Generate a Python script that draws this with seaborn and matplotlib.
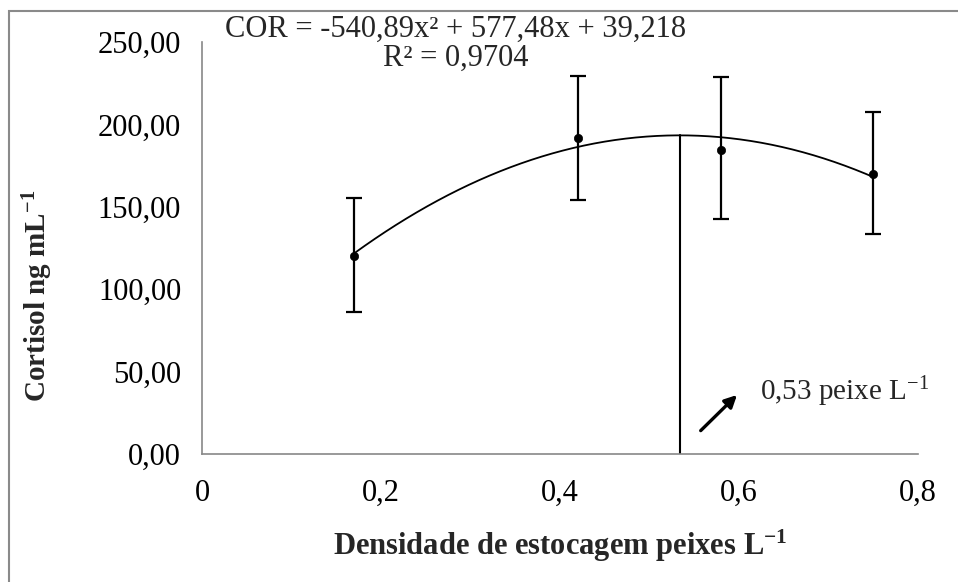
import numpy as np
import pandas as pd
import matplotlib
matplotlib.use("Agg")
import matplotlib.pyplot as plt
from matplotlib.ticker import FuncFormatter, MultipleLocator
from matplotlib.patches import Rectangle
import seaborn as sns

# ---- data ----
density = [0.17, 0.42, 0.58, 0.75]
cortisol = [120.0, 191.5, 184.5, 169.7]
err_low = [86.3, 154.3, 142.3, 133.5]
err_high = [155.3, 229.4, 228.8, 207.7]
coef = [-540.89, 577.48, 39.218]   # COR = a x^2 + b x + c
optimum_x = 0.5338
eq_text = "COR = -540,89x² + 577,48x + 39,218"
r2_text = "R² = 0,9704"
opt_label = "0,53 peixe L$^{\\mathregular{-1}}$"

sns.set_style("white")
plt.rcParams["font.family"] = ["Liberation Serif", "DejaVu Serif"]
plt.rcParams["mathtext.fontset"] = "custom"
plt.rcParams["mathtext.rm"] = "Liberation Serif"
plt.rcParams["mathtext.bf"] = "Liberation Serif:bold"
plt.rcParams["mathtext.it"] = "Liberation Serif:italic"

FS = 22

df = pd.DataFrame({"x": density, "y": cortisol})

fig = plt.figure(figsize=(9.58, 5.82), dpi=100)
ax = fig.add_axes([202 / 958, 1 - 454 / 582, (918 - 202) / 958, (454 - 42) / 582])
ax.patch.set_alpha(0)

# fitted curve from the reported equation
xc = np.linspace(min(density), max(density), 200)
yc = np.polyval(coef, xc)
sns.lineplot(x=xc, y=yc, ax=ax, color="black", lw=1.3)

# error bars
yerr = [np.array(cortisol) - np.array(err_low), np.array(err_high) - np.array(cortisol)]
ax.errorbar(density, cortisol, yerr=yerr, fmt="none", ecolor="black",
            elinewidth=1.6, capsize=6, capthick=1.6, zorder=3)
sns.scatterplot(data=df, x="x", y="y", ax=ax, color="black", s=36,
                edgecolor="black", zorder=4)

# vertical line at optimum
ax.plot([optimum_x, optimum_x], [0, np.polyval(coef, optimum_x)], color="black", lw=1.5)

# arrow and annotation
ax.annotate("", xy=(0.600, 37), xytext=(0.555, 13),
            arrowprops=dict(arrowstyle="-|>", color="black", lw=2.4, mutation_scale=18))
ax.text(0.624, 38, opt_label, fontsize=FS - 1, va="center", ha="left")

ax.set_xlim(0, 0.8)
ax.set_ylim(0, 250)
ax.xaxis.set_major_locator(MultipleLocator(0.2))
ax.yaxis.set_major_locator(MultipleLocator(50))
ax.xaxis.set_major_formatter(FuncFormatter(lambda v, p: ("%g" % round(v, 2)).replace(".", ",")))
ax.yaxis.set_major_formatter(FuncFormatter(lambda v, p: ("%.2f" % v).replace(".", ",")))

for s in ["top", "right"]:
    ax.spines[s].set_visible(False)
for s in ["left", "bottom"]:
    ax.spines[s].set_color("#888888")
    ax.spines[s].set_linewidth(1.2)
ax.tick_params(axis="both", which="major", direction="out", length=7, width=1.2,
               color="#888888", labelsize=FS, labelcolor="black")
ax.tick_params(axis="x", pad=11)
ax.tick_params(axis="y", pad=8)

ax.set_xlabel("Densidade de estocagem peixes L$^{\\mathbf{-1}}$", fontsize=FS,
              fontweight="bold", va="center")
ax.xaxis.set_label_coords(560 / 958, 1 - 546 / 582, transform=fig.transFigure)
ax.set_ylabel("Cortisol ng mL$^{\\mathbf{-1}}$", fontsize=FS - 1, fontweight="bold",
              va="center")
ax.yaxis.set_label_coords(38 / 958, 1 - 296 / 582, transform=fig.transFigure)

fig.text(456 / 958, 1 - 29 / 582, eq_text, fontsize=FS, ha="center", va="center")
fig.text(456 / 958, 1 - 58 / 582, r2_text, fontsize=FS, ha="center", va="center")

# outer frame (top and left edges visible)
fig.patches.append(Rectangle((9 / 958, -0.1), 1.2, (1 - 11 / 582) + 0.1,
                             transform=fig.transFigure, fill=False,
                             edgecolor="#8a8a8a", lw=1.5))

fig.savefig("out.png", dpi=100)
